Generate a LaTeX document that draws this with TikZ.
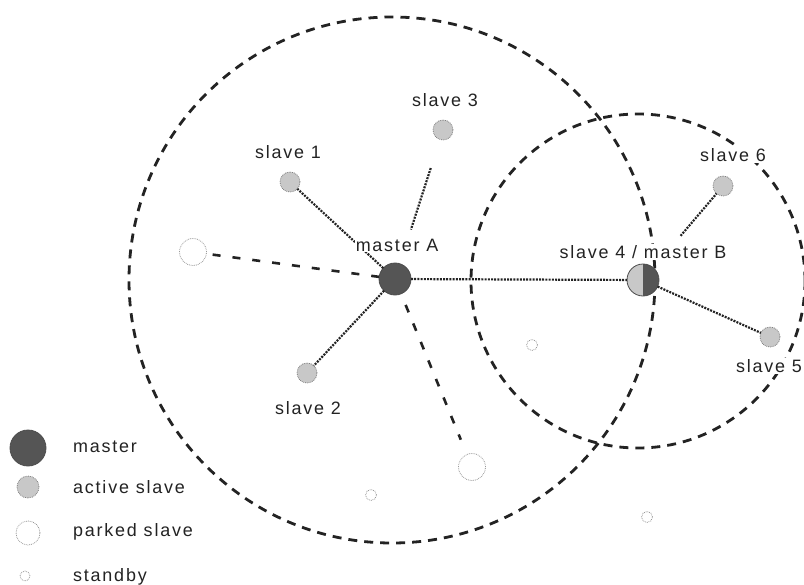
\documentclass[tikz,border=0pt]{standalone}
\usepackage{fontspec}
\setmainfont{Liberation Sans}[LetterSpace=10]
\usetikzlibrary{shapes}
\usetikzlibrary{arrows}
\definecolor{darkdot}{RGB}{85,85,85}
\definecolor{litedot}{RGB}{200,200,200}
\definecolor{inkgray}{RGB}{35,35,35}
\tikzset{
  piconode/.style = {circle, inner sep=0pt, outer sep=0pt},
  master_node/.style = {piconode, draw=black!70, fill=darkdot,
    line width=0.8bp, minimum size=32bp},% maitre
  active_node/.style = {piconode, draw=gray, densely dotted, fill=litedot,
    line width=0.8bp, minimum size=20bp},% esclave actif
  parked_node/.style = {piconode, draw=gray!80, densely dotted, fill=white,
    line width=0.8bp, minimum size=27bp},% esclave parque
  standby_node/.style = {piconode, draw=gray!80, densely dotted, fill=white,
    line width=0.8bp, minimum size=11bp},% en attente
  tag/.style = {inner sep=1bp, fill=white, text=inkgray,
    font=\fontsize{18}{20}\selectfont},
  range_line/.style = {dash pattern=on 9bp off 7bp, line width=2.8bp, inkgray},
  park_link/.style = {dash pattern=on 8bp off 12bp, line width=2.6bp, inkgray},
  dot_link/.style = {dash pattern=on 2bp off 1.2bp, line width=2.2bp, inkgray}
}
\begin{document}
\begin{tikzpicture}[x=1bp, y=-1bp]
  \useasboundingbox (0,0) rectangle (804,585);
  % portees
  \draw [range_line] (392,280) circle [radius=263];
  \draw [range_line] (638,281) circle [radius=167];

  % piconet A
  \node [master_node] (mA) at (395,279) {};
  \node [active_node] (s1) at (290,182) {};
  \node [active_node] (s2) at (307,373) {};
  \node [active_node] (s3) at (443,130) {};
  \node [parked_node] (p1) at (193,252) {};
  \node [parked_node] (p2) at (472,467) {};
  % piconet B
  \node [master_node, fill=litedot,
    path picture={\fill[darkdot] (path picture bounding box.north) rectangle
      (path picture bounding box.south east);}] (mB) at (643,280) {};
  \node [active_node] (s5) at (770,337) {};
  \node [active_node] (s6) at (723,186) {};
  % en attente
  \node [standby_node] (sb1) at (532,345) {};
  \node [standby_node] (sb2) at (371,495) {};
  \node [standby_node] (sb3) at (647,517) {};

  \draw [dot_link] (mA) -- (s1);
  \draw [dot_link] (mA) -- (s2);
  \draw [dot_link, shorten <=30bp, shorten >=36bp] (s3) -- (mA);
  \draw [park_link] (mA) -- (p1);
  \draw [park_link, shorten <=12bp, shorten >=16bp] (mA) -- (p2);
  \draw [dot_link] (mA) -- (mB);
  \draw [dot_link, shorten <=42bp] (mB) -- (s6);
  \draw [dot_link] (mB) -- (s5);

  \node [tag] (tA) at (397,245) {master A};
  \node [tag] (tB) at (643,252) {slave 4 / master B};
  \node [tag] (t1) at (288,152) {slave 1};
  \node [tag] (t2) at (308,408) {slave 2};
  \node [tag] (t3) at (445,100) {slave 3};
  \node [tag, anchor=east] (t5) at (803,366) {slave 5};
  \node [tag] (t6) at (733,155) {slave 6};

  % legende
  \node [master_node, minimum size=36bp] (lm) at (28,448) {};
  \node [active_node, minimum size=22bp] (la) at (28,487) {};
  \node [parked_node, minimum size=24bp] (lp) at (28,533) {};
  \node [standby_node, minimum size=10bp] (ls) at (25,576) {};
  \node [tag, anchor=west] (tm) at (72,447) {master};
  \node [tag, anchor=west] (ta) at (72,487) {active slave};
  \node [tag, anchor=west] (tp) at (72,532) {parked slave};
  \node [tag, anchor=west] (ts) at (72,577) {standby};
\end{tikzpicture}
\end{document}
